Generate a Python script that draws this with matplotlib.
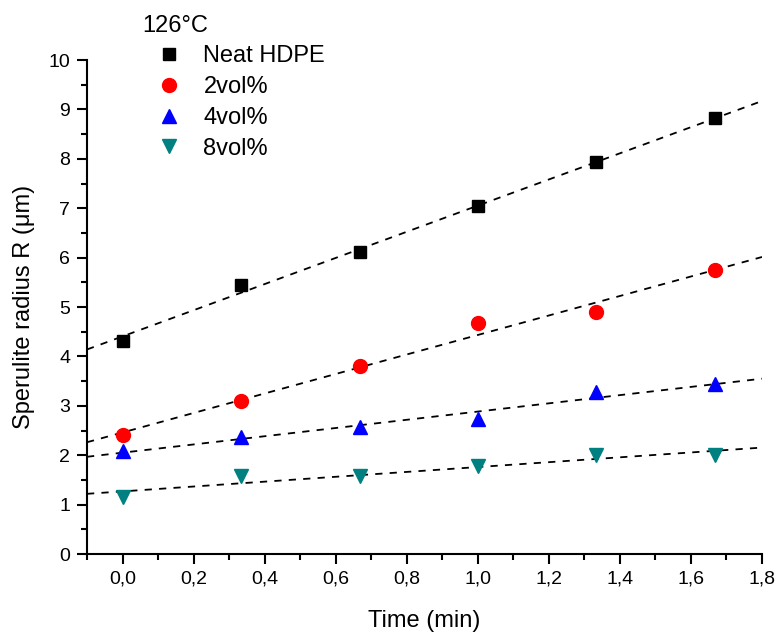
import numpy as np
import matplotlib
matplotlib.use('Agg')
import matplotlib.pyplot as plt
from matplotlib.ticker import MultipleLocator, FuncFormatter

plt.rcParams['font.family'] = ['Liberation Sans', 'DejaVu Sans']

# Data
time_min = [0.0, 0.333, 0.667, 1.0, 1.333, 1.667]
neat_hdpe = [4.32, 5.44, 6.12, 7.04, 7.93, 8.82]
vol2 = [2.40, 3.10, 3.80, 4.68, 4.90, 5.75]
vol4 = [2.08, 2.37, 2.57, 2.73, 3.27, 3.45]
vol8 = [1.15, 1.57, 1.57, 1.78, 2.00, 2.00]

series = [
    ('Neat HDPE', neat_hdpe, 's', 'black', 9),
    ('2vol%', vol2, 'o', '#ff0000', 10),
    ('4vol%', vol4, '^', '#0000ff', 10),
    ('8vol%', vol8, 'v', '#008080', 10),
]

fig = plt.figure(figsize=(7.79, 6.32), dpi=100)
ax = fig.add_axes([0.1117, 0.1234, 0.8665, 0.7816])

xfit = np.array([-0.1, 1.8])
for label, y, mk, col, ms in series:
    k, b = np.polyfit(time_min, y, 1)
    ax.plot(xfit, k * xfit + b, color='black', lw=1.3, dashes=(4, 4), zorder=2)
for label, y, mk, col, ms in series:
    ax.plot(time_min, y, linestyle='none', marker=mk, color=col, ms=ms,
            mec=col, label=label, zorder=3)

ax.set_xlim(-0.1, 1.8)
ax.set_ylim(0, 10)
ax.xaxis.set_major_locator(MultipleLocator(0.2))
ax.xaxis.set_minor_locator(MultipleLocator(0.1))
ax.yaxis.set_major_locator(MultipleLocator(1))
ax.yaxis.set_minor_locator(MultipleLocator(0.5))
ax.xaxis.set_major_formatter(FuncFormatter(lambda v, p: f'{v:.1f}'.replace('.', ',')))

for s in ['top', 'right']:
    ax.spines[s].set_visible(False)
for s in ['left', 'bottom']:
    ax.spines[s].set_linewidth(1.5)
ax.tick_params(which='major', direction='out', length=7, width=1.5, labelsize=14, pad=5)
ax.tick_params(which='minor', direction='out', length=4, width=1.5)

ax.set_xlabel('Time (min)', fontsize=17, labelpad=16)
ax.set_ylabel('Sperulite radius R (μm)', fontsize=17, labelpad=10)

leg = ax.legend(title='126°C', loc='upper left', bbox_to_anchor=(142 / 779, 1 - 15 / 632),
                bbox_transform=fig.transFigure, frameon=False, fontsize=17,
                title_fontsize=17, handlelength=2.3, handletextpad=0.3,
                labelspacing=0.37, borderpad=0, borderaxespad=0)
leg._legend_box.align = 'left'
leg._legend_box.sep = 6

fig.savefig('out.png', dpi=100)
